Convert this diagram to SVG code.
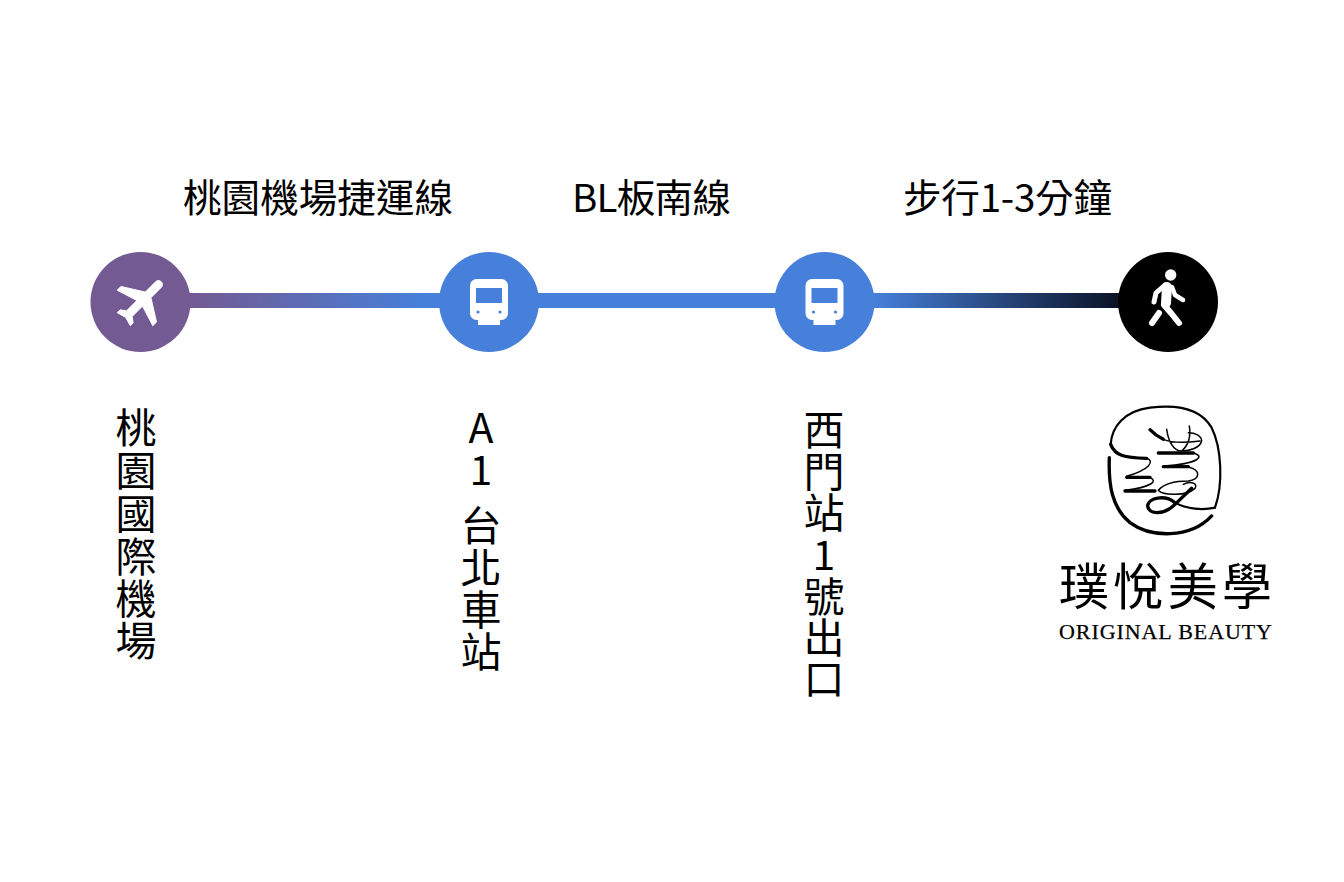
<svg xmlns="http://www.w3.org/2000/svg" width="1344" height="882" viewBox="0 0 1344 882">
<style>
text{font-family:"Noto Sans CJK TC","Noto Sans",sans-serif;fill:#000}
.top{font-size:38.600px}
.v{font-size:41px;text-anchor:middle}
.brand{font-size:50px;font-weight:400}
.en{font-family:"Liberation Serif",serif;font-size:22px;stroke:#000;stroke-width:.25}
.ls{fill:none;stroke:#000;stroke-width:6.500;stroke-linecap:round;stroke-linejoin:round}
.th{stroke-width:10}
.tn{stroke-width:4.500}
</style>
<defs>
<linearGradient id="g1" gradientUnits="userSpaceOnUse" x1="190" y1="0" x2="425" y2="0"><stop offset="0" stop-color="#735a92"/><stop offset="1" stop-color="#4680da"/></linearGradient>
<linearGradient id="g3" gradientUnits="userSpaceOnUse" x1="874" y1="0" x2="1118" y2="0"><stop offset="0" stop-color="#4680da"/><stop offset="1" stop-color="#0b1226"/></linearGradient>
<g id="train"><rect x="-19" y="-23" width="38" height="41" rx="6.500" fill="#fff"/><rect x="-11" y="16" width="22" height="7" fill="#fff"/><rect x="-13" y="-14" width="26" height="15" fill="#4680da"/><circle cx="-11" cy="10" r="1.600" fill="#4680da"/><circle cx="11" cy="10" r="1.600" fill="#4680da"/></g>
</defs>
<g id="connectors">
<rect x="188" y="293" width="254" height="15" fill="url(#g1)"/>
<rect x="536" y="293" width="242" height="15" fill="#4680da"/>
<rect x="872" y="293" width="248" height="15" fill="url(#g3)"/>
</g>
<g id="node-airport">
<circle cx="140.500" cy="302" r="50" fill="#735a92"/>
<path transform="translate(142.500 300.500) rotate(45) scale(2.650) translate(-11.500 -12)" fill="#fff" stroke="#fff" stroke-width=".35" d="M21 16v-2l-8-5V3.500c0-.83-.67-1.500-1.500-1.500S10 2.670 10 3.500V9l-8 5v2l8-2.500V19l-2 1.500V22l3.500-1 3.500 1v-1.500L13 19v-5.500l8 2.500z"/>
<text class="v" x="136" y="443">桃</text><text class="v" x="136" y="486">園</text><text class="v" x="136" y="529">國</text><text class="v" x="136" y="572">際</text><text class="v" x="136" y="614">機</text><text class="v" x="136" y="656">場</text>
</g>
<g id="node-a1">
<circle cx="489" cy="302" r="50" fill="#4680da"/>
<use href="#train" x="489" y="302"/>
<text class="v" x="481" y="443">A</text><text class="v" x="481" y="485">1</text><text class="v" x="481" y="541">台</text><text class="v" x="481" y="583">北</text><text class="v" x="481" y="625">車</text><text class="v" x="481" y="667">站</text>
</g>
<g id="node-ximen">
<circle cx="824.500" cy="302" r="50" fill="#4680da"/>
<use href="#train" x="824.500" y="302"/>
<text class="v" x="824" y="445">西</text><text class="v" x="824" y="487">門</text><text class="v" x="824" y="528">站</text><text class="v" x="824" y="570">1</text><text class="v" x="824" y="612">號</text><text class="v" x="824" y="653">出</text><text class="v" x="824" y="694">口</text>
</g>
<g id="node-walk">
<circle cx="1168" cy="302" r="50" fill="#000"/>
<circle cx="1170.700" cy="275" r="5.700" fill="#fff"/>
<g fill="none" stroke="#fff" stroke-linecap="round" stroke-linejoin="round">
<path stroke-width="10" d="M1167 287L1166 303"/>
<path stroke-width="5" d="M1165 285L1156 293L1154 302"/>
<path stroke-width="4.500" d="M1172 287L1175 295L1183 300"/>
<path stroke-width="6" d="M1164 305L1171 313L1179 323"/>
<path stroke-width="6" d="M1159 313L1152 323"/>
</g>
</g>
<g id="labels">
<text class="top" x="183" y="212">桃園機場捷運線</text>
<text class="top" x="572" y="212" textLength="159">BL板南線</text>
<text class="top" x="903" y="212" textLength="209">步行1-3分鐘</text>
</g>
<g id="node-brand">
<g transform="translate(1100 401) scale(.3333)">
<path class="ls" d="M32 130C35 80 70 30 150 20C230 10 300 20 335 80C365 140 370 250 345 320"/>
<path class="ls th" d="M28 170C25 250 35 320 90 365C150 410 270 415 335 345"/>
<path class="ls" d="M345 320C310 328 260 325 225 305"/>
<path class="ls th" d="M225 305C195 280 145 290 143 315C145 340 190 345 225 310L275 262"/>
<path class="ls th" d="M32 130C45 165 75 170 140 172"/>
<path class="ls tn" d="M140 172C165 180 150 205 80 226M150 230C175 240 155 258 75 268"/>
<path class="ls th" d="M80 229H150M75 270H165"/>
<path class="ls th" d="M150 86C165 102 175 108 190 115"/>
<path class="ls tn" d="M190 115C220 128 260 125 300 120M200 85C205 120 220 150 245 150C270 150 300 140 305 120C305 105 285 95 265 95M268 75C272 100 268 130 245 150"/>
<path class="ls th" d="M175 156H280"/>
<path class="ls tn" d="M280 156C315 165 300 188 190 195"/>
<path class="ls th" d="M190 197H265"/>
<path class="ls tn" d="M265 198C305 208 300 235 265 240C225 240 190 250 175 268C190 285 260 285 285 262C295 245 270 240 250 250"/>
</g>
<text class="brand" x="1059" y="605" textLength="213">璞悅美學</text>
<text class="en" x="1059" y="639" textLength="213">ORIGINAL BEAUTY</text>
</g>
</svg>
